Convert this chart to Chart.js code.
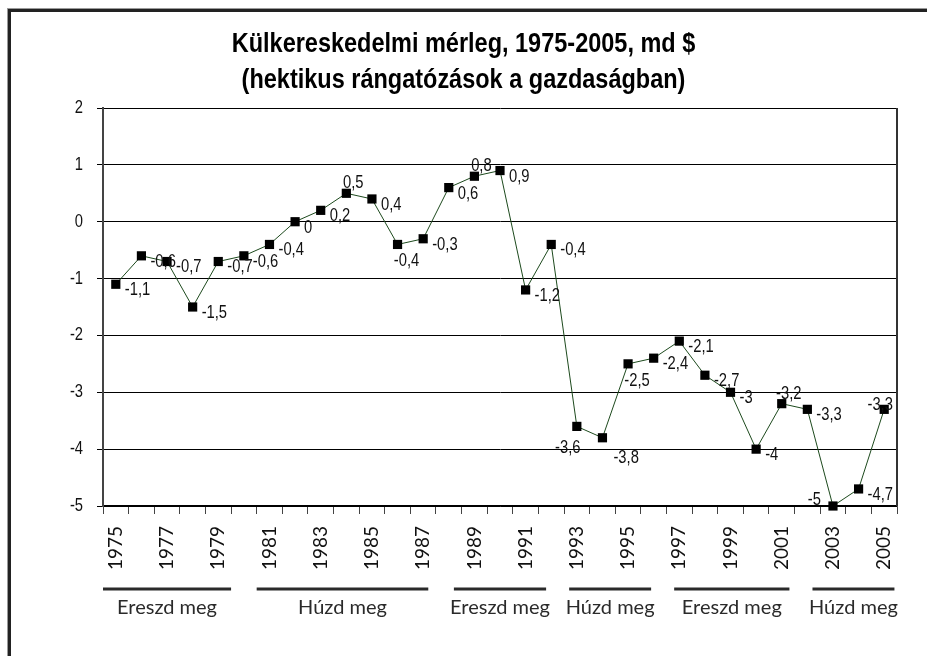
<!DOCTYPE html>
<html>
<head>
<meta charset="utf-8">
<script src="https://cdn.jsdelivr.net/npm/chart.js@4/dist/chart.umd.min.js"></script>
<style>
  html, body { margin: 0; padding: 0; background: #fff; }
  #wrap { position: relative; width: 927px; height: 656px; }
</style>
</head>
<body>
<div id="wrap"><canvas id="c"></canvas></div>
<script>
// ---- data ----
const years = [1975,1976,1977,1978,1979,1980,1981,1982,1983,1984,1985,1986,1987,1988,1989,1990,
               1991,1992,1993,1994,1995,1996,1997,1998,1999,2000,2001,2002,2003,2004,2005];
const balance = [-1.1,-0.6,-0.7,-1.5,-0.7,-0.6,-0.4,0,0.2,0.5,0.4,-0.4,-0.3,0.6,0.8,0.9,
                 -1.2,-0.4,-3.6,-3.8,-2.5,-2.4,-2.1,-2.7,-3,-4,-3.2,-3.3,-5,-4.7,-3.3];
const yTicks = [2,1,0,-1,-2,-3,-4,-5];
const titleLines = ['Külkereskedelmi mérleg, 1975-2005, md $', '(hektikus rángatózások a gazdaságban)'];
// phases shown under the axis (year spans as drawn)
const phaseLabels = ['Ereszd meg','Húzd meg','Ereszd meg','Húzd meg','Ereszd meg','Húzd meg'];
const phaseFrom   = [1974.5, 1980.5, 1988.2, 1992.7, 1996.8, 2002.2];
const phaseTo     = [1979.5, 1987.2, 1991.8, 1995.9, 2001.3, 2005.4];
// label placement code for each point (style)
const labelPos = ['r','r','r','r','r','r','r','r','r','a','r','b','r','r','a','r',
                  'r','r','bl','br','b','r','r','r','r','r','a','r','l','r','al'];

const SANS = "'Liberation Sans', Arial, sans-serif";
const NARROW_X = 0.82;   // horizontal squeeze to mimic a narrow face
const placeStyle = {
  r:  {dx: 9,  dy: 6,  align: 'left'},
  a:  {dx: 7,  dy: -10, align: 'center'},
  b:  {dx: 9,  dy: 17, align: 'center'},
  bl: {dx: -9, dy: 22, align: 'center'},
  br: {dx: 11, dy: 20, align: 'left'},
  l:  {dx: -12, dy: -6, align: 'right'},
  al: {dx: -4, dy: -4, align: 'center'}
};

function fmt(v) { return String(v).replace('.', ','); }

function narrowText(ctx, text, x, y, align, sx) {
  ctx.save();
  ctx.translate(x, y);
  ctx.scale(sx || NARROW_X, 1);
  ctx.textAlign = align;
  ctx.fillText(text, 0, 0);
  ctx.restore();
}

const framePlugin = {
  id: 'frame',
  beforeDraw(chart) {
    const ctx = chart.ctx;
    ctx.save();
    ctx.fillStyle = '#fff';
    ctx.fillRect(0, 0, chart.width, chart.height);
    ctx.fillStyle = '#9a9a9a';
    ctx.fillRect(7, 8, chart.width - 7, 1);
    ctx.fillRect(7, 8, 1, chart.height - 8);
    ctx.fillStyle = '#222';
    ctx.fillRect(8, 9, chart.width - 8, 3);
    ctx.fillRect(8, 9, 3, chart.height - 9);
    // title
    ctx.fillStyle = '#000';
    ctx.textBaseline = 'middle';
    ctx.font = 'bold 27px ' + SANS;
    narrowText(ctx, titleLines[0], chart.width / 2, 45, 'center', 0.87);
    narrowText(ctx, titleLines[1], chart.width / 2, 81, 'center', 0.87);
    ctx.restore();
  },
  afterDraw(chart) {
    const ctx = chart.ctx, a = chart.chartArea, y = chart.scales.y;
    ctx.save();
    ctx.strokeStyle = '#333';
    ctx.lineWidth = 2;
    ctx.beginPath();
    ctx.moveTo(a.right, a.top);
    ctx.lineTo(a.right, a.bottom);
    ctx.stroke();
    // y tick labels
    ctx.fillStyle = '#111';
    ctx.font = '18px ' + SANS;
    ctx.textBaseline = 'middle';
    yTicks.forEach(v => narrowText(ctx, fmt(v), a.left - 20, y.getPixelForValue(v), 'right'));
    ctx.restore();
  }
};

const labelPlugin = {
  id: 'pointLabels',
  afterDatasetsDraw(chart) {
    const ctx = chart.ctx;
    const meta = chart.getDatasetMeta(0);
    ctx.save();
    ctx.font = '18px ' + SANS;
    ctx.fillStyle = '#111';
    ctx.textBaseline = 'middle';
    meta.data.forEach((pt, i) => {
      const s = placeStyle[labelPos[i]];
      narrowText(ctx, fmt(balance[i]), pt.x + s.dx, pt.y + s.dy, s.align);
    });
    ctx.restore();
  }
};

const phasePlugin = {
  id: 'phases',
  afterDraw(chart) {
    const ctx = chart.ctx, x = chart.scales.x;
    const yLine = 589, yText = 608;
    ctx.save();
    ctx.fillStyle = '#2a2a2a';
    ctx.font = '20px Lato, sans-serif';
    ctx.textAlign = 'center';
    ctx.textBaseline = 'middle';
    phaseLabels.forEach((lab, i) => {
      const x1 = x.getPixelForDecimal((phaseFrom[i] - years[0] + 0.5) / years.length);
      const x2 = x.getPixelForDecimal((phaseTo[i] - years[0] + 0.5) / years.length);
      ctx.fillRect(x1, yLine - 1.5, x2 - x1, 3);
      ctx.fillText(lab, (x1 + x2) / 2, yText);
    });
    ctx.restore();
  }
};

new Chart(document.getElementById('c'), {
  type: 'line',
  data: {
    labels: years.map(String),
    datasets: [{
      data: balance,
      borderColor: '#1d4a1d',
      borderWidth: 1,
      tension: 0,
      pointStyle: 'rect',
      pointRadius: 6.5,
      pointHoverRadius: 6.5,
      pointBackgroundColor: '#000',
      pointBorderColor: '#000',
      pointBorderWidth: 0,
      clip: false
    }]
  },
  options: {
    responsive: true,
    maintainAspectRatio: false,
    animation: false,
    events: [],
    layout: { padding: { left: 0, right: 30, top: 108, bottom: 0 } },
    plugins: {
      legend: { display: false },
      tooltip: { enabled: false },
      title: { display: false }
    },
    scales: {
      x: {
        offset: true,
        grid: { offset: true, drawOnChartArea: false, drawTicks: true, tickLength: 8, color: '#444', lineWidth: 1 },
        border: { display: true, color: '#000', width: 1.5 },
        ticks: {
          autoSkip: false, maxRotation: 90, minRotation: 90, padding: 12,
          color: '#111',
          font: { family: 'Lato, sans-serif', size: 19 },
          callback: (v, i) => (i % 2 === 0 ? years[i] : '')
        },
        afterFit: s => { s.height = 150; }
      },
      y: {
        min: -5, max: 2,
        afterBuildTicks: s => { s.ticks = yTicks.map(v => ({ value: v })); },
        grid: { color: '#000', lineWidth: 1, tickLength: 6, drawTicks: true },
        border: { display: true, color: '#444', width: 2 },
        ticks: { color: 'rgba(0,0,0,0)', padding: 14, font: { size: 16 } },
        afterFit: s => { s.width = 103; }
      }
    }
  },
  plugins: [framePlugin, labelPlugin, phasePlugin]
});
</script>
</body>
</html>
